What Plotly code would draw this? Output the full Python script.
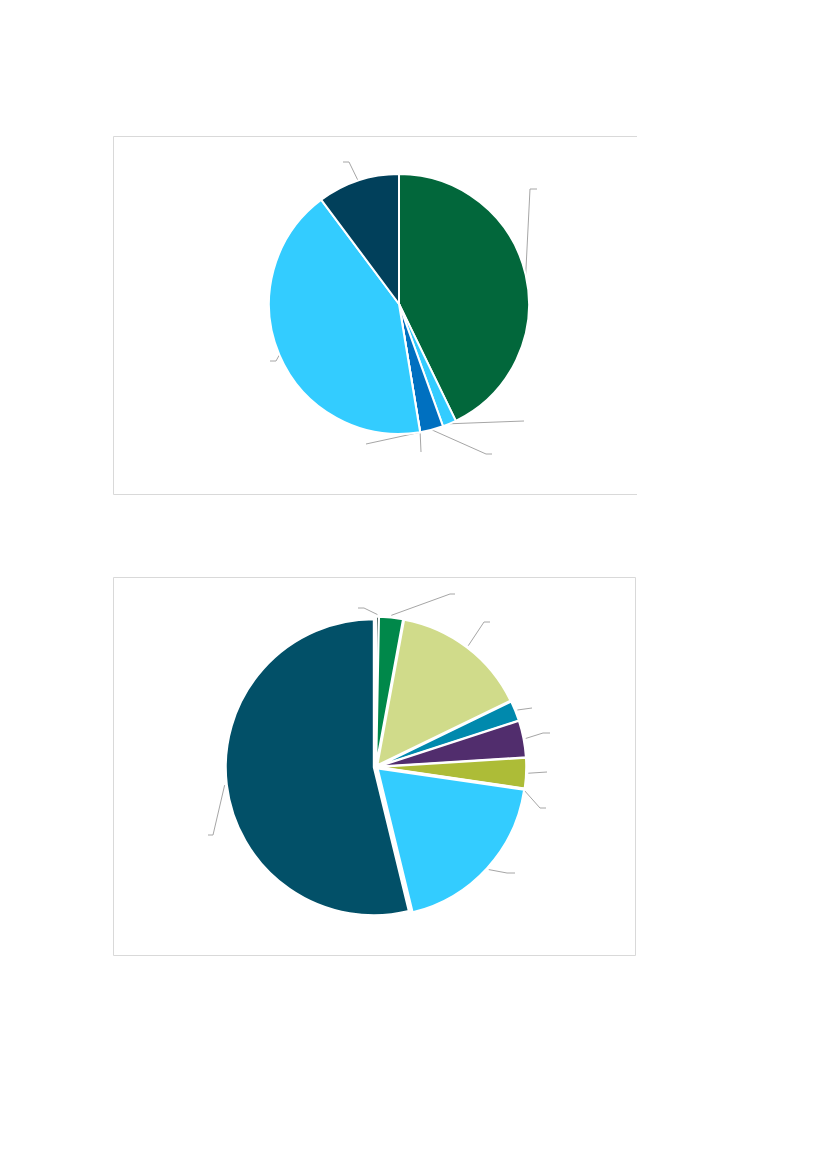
import plotly.graph_objects as go
import numpy as np

# Données - camembert du haut (parts en %)
cats_1 = ["A", "B", "C", "D", "E", "F", "G"]
vals_1 = [42.8, 1.7, 2.9, 0, 0, 42.4, 10.2]
cols_1 = ["#02673B", "#33CCFF", "#0070C0", "#0070C0", "#33CCFF", "#33CCFF", "#01405B"]

# Données - camembert du bas (parts en %)
cats_2 = ["A", "B", "C", "D", "E", "F", "G", "H", "I", "J"]
vals_2 = [0, 0.3, 2.6, 14.9, 2.2, 4.0, 3.3, 0, 18.9, 53.8]
cols_2 = ["#1D3C34", "#1D3C34", "#00884A", "#D0DB8A", "#0089AD", "#512D6D",
          "#ADBC37", "#ADBC37", "#33CCFF", "#025068"]

W, H = 827, 1169
OFF = 8  # marge de la page html autour du graphique

# Mise en page des camemberts (pixels) : centre, rayon, écartement
pie_1 = dict(cx=399, cy=304, r=130, pull=0.0)
pie_2 = dict(cx=376, cy=767, r=148, pull=0.015)

# Ancrages des étiquettes (vides) : coude puis fin du trait, en pixels
lab_1 = [[(530, 189), (537, 189)], [(524, 421), (524, 421)], [(486, 454), (492, 454)],
         [(366, 444), (366, 444)], [(421, 452), (421, 452)],
         [(276, 361), (270, 361)], [(349, 162), (343, 162)]]
lab_2 = [[(376, 680), (376, 680)], [(364, 608), (358, 608)], [(450, 594), (455, 594)],
         [(484, 622), (490, 622)], [(532, 708), (532, 708)], [(543, 733), (550, 733)],
         [(547, 772), (547, 772)], [(540, 808), (546, 808)], [(507, 873), (515, 873)],
         [(213, 835), (208, 835)]]


def domain(p):
    half = p["r"] * (1 + p["pull"])
    cx, cy = p["cx"] - OFF, p["cy"] - OFF
    return dict(x=[(cx - half) / W, (cx + half) / W],
                y=[1 - (cy + half) / H, 1 - (cy - half) / H])


def leaders(vals, p, labs):
    # départ du trait au bord de la part, au milieu de son angle
    total = sum(vals)
    cum = np.cumsum([0] + vals[:-1])
    xs, ys = [], []
    for c, v, lab in zip(cum, vals, labs):
        a = np.radians(360 * (c + v / 2) / total)
        rr = p["r"] * (1 + (2 * p["pull"] if v > 0 else 0))
        x0 = p["cx"] + rr * np.sin(a)
        y0 = p["cy"] - rr * np.cos(a)
        xs += [x0, lab[0][0], lab[1][0], None]
        ys += [y0, lab[0][1], lab[1][1], None]
    return xs, ys


fig = go.Figure()

fig.add_trace(go.Pie(
    labels=cats_1, values=vals_1, sort=False, direction="clockwise", rotation=0,
    marker=dict(colors=cols_1, line=dict(color="white", width=2)),
    textinfo="none", hoverinfo="label+percent", domain=domain(pie_1), showlegend=False
))
fig.add_trace(go.Pie(
    labels=cats_2, values=vals_2, sort=False, direction="clockwise", rotation=0,
    pull=pie_2["pull"],
    marker=dict(colors=cols_2, line=dict(color="white", width=2)),
    textinfo="none", hoverinfo="label+percent", domain=domain(pie_2), showlegend=False
))

for vals, p, labs in [(vals_1, pie_1, lab_1), (vals_2, pie_2, lab_2)]:
    lx, ly = leaders(vals, p, labs)
    fig.add_trace(go.Scatter(x=lx, y=ly, mode="lines", hoverinfo="skip",
                             line=dict(color="#A6A6A6", width=1), showlegend=False))

# Cadres des graphiques
box = dict(color="#D9D9D9", width=1)
shapes = [
    dict(type="line", x0=113.5, x1=637, y0=136.5, y1=136.5, line=box),
    dict(type="line", x0=113.5, x1=637, y0=494.5, y1=494.5, line=box),
    dict(type="line", x0=113.5, x1=113.5, y0=136.5, y1=494.5, line=box),
    dict(type="rect", x0=113.5, x1=635.5, y0=577.5, y1=955.5, line=box),
]

fig.update_layout(
    width=W, height=H,
    margin=dict(l=0, r=0, t=0, b=0),
    paper_bgcolor="white", plot_bgcolor="rgba(0,0,0,0)",
    xaxis=dict(range=[OFF, W + OFF], visible=False, domain=[0, 1], fixedrange=True),
    yaxis=dict(range=[H + OFF, OFF], visible=False, domain=[0, 1], fixedrange=True),
    shapes=shapes,
)

fig.write_html("out.html")
